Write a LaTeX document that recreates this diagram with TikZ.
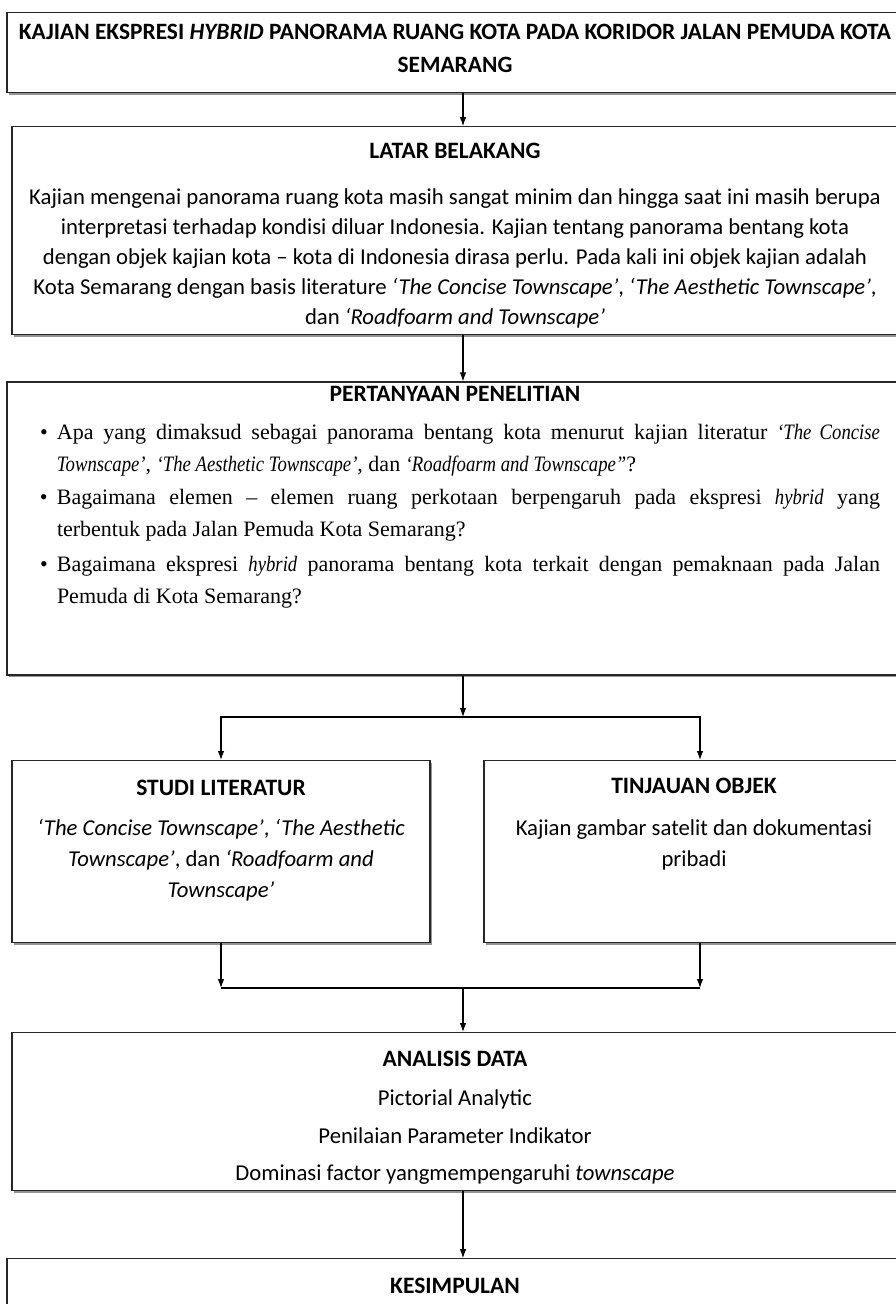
\documentclass[tikz,border=0pt]{standalone}
\usepackage{fontspec}
\setmainfont{Carlito}
\newfontfamily\timesfont{Liberation Serif}[ItalicFeatures={FakeStretch=0.85}]
\usetikzlibrary{arrows.meta,positioning,shadows}

\tikzset{
  box/.style={draw=black!85,line width=1.2pt,fill=white,inner sep=0pt,anchor=north,
    drop shadow={shadow xshift=1.5pt,shadow yshift=-2pt,fill=black!60,opacity=.7}},
}
% fixed size box, text starts at the top
\newcommand{\boxbody}[3]{\parbox[c][#2][t]{#1}{\centering\fontsize{22.7}{30}\selectfont #3}}
\newcommand{\judulfont}{\fontsize{23.5}{30}\selectfont\bfseries}

\begin{document}
\begin{tikzpicture}[->,>={Latex[length=9pt,width=6.5pt]},line width=1.1pt]
  \useasboundingbox (0,0) rectangle (896pt,-1304pt);
  \coordinate (sumbu) at (463pt,0pt);

  \node[box] (judul) at (455pt,-12pt) {\boxbody{896pt}{80pt}{%
    \fontsize{23.4}{33}\selectfont\vspace*{12pt}\bfseries
    KAJIAN EKSPRESI \textit{HYBRID} PANORAMA RUANG KOTA PADA KORIDOR JALAN PEMUDA KOTA\\
    SEMARANG}};

  \node[box] (latar) [below=33pt of judul] {\boxbody{886pt}{208pt}{%
    \vspace*{16pt}{\judulfont LATAR BELAKANG}\\[16pt]
    Kajian mengenai panorama ruang kota masih sangat minim dan hingga saat ini masih berupa\\
    interpretasi terhadap kondisi diluar Indonesia. Kajian tentang panorama bentang kota\\
    dengan objek kajian kota – kota di Indonesia dirasa perlu. Pada kali ini objek kajian adalah\\
    Kota Semarang dengan basis literature \textit{‘The Concise Townscape’}, \textit{‘The Aesthetic Townscape’},\\
    dan \textit{‘Roadfoarm and Townscape’}}};

  \node[box] (tanya) [below=46pt of latar] {\parbox[c][293pt][t]{896pt}{%
    \fontsize{22.7}{30}\selectfont
    \vspace*{4pt}\centerline{\judulfont PERTANYAAN PENELITIAN}\vspace{8pt}
    \noindent\hspace*{33pt}\parbox[t]{840pt}{\timesfont\fontsize{22}{32.5}\selectfont
      \hangindent=17pt\hangafter=1\noindent\makebox[17pt][l]{\textbullet}Apa yang dimaksud sebagai panorama bentang kota menurut kajian literatur \textit{‘The Concise}\linebreak
      \textit{Townscape’}, \textit{‘The Aesthetic Townscape’}, dan \textit{‘Roadfoarm and Townscape”}?\par
      \hangindent=17pt\hangafter=1\noindent\makebox[17pt][l]{\textbullet}Bagaimana elemen – elemen ruang perkotaan berpengaruh pada ekspresi \textit{hybrid} yang\linebreak
      terbentuk pada Jalan Pemuda Kota Semarang?\par\vspace{2pt}
      \hangindent=17pt\hangafter=1\noindent\makebox[17pt][l]{\textbullet}Bagaimana ekspresi \textit{hybrid} panorama bentang kota terkait dengan pemaknaan pada Jalan\linebreak
      Pemuda di Kota Semarang?\par}}};

  \coordinate (bagi) at (463pt,-717pt);

  \node[box] (studi) at (221pt,-760pt) {\boxbody{418pt}{182pt}{%
    \fontsize{22.7}{31}\selectfont
    \vspace*{19pt}{\judulfont STUDI LITERATUR}\\[9pt]
    \textit{‘The Concise Townscape’}, \textit{‘The Aesthetic}\\
    \textit{Townscape’}, dan \textit{‘Roadfoarm and}\\
    \textit{Townscape’}}};

  \node[box] (tinjau) at (694pt,-760pt) {\boxbody{420pt}{182pt}{%
    \fontsize{22.7}{31}\selectfont
    \vspace*{17pt}{\judulfont TINJAUAN OBJEK}\\[11pt]
    Kajian gambar satelit dan dokumentasi\\
    pribadi}};

  \coordinate (gabung) at (463pt,-988pt);

  \node[box] (analisis) at (455pt,-1032pt) {\boxbody{886pt}{158pt}{%
    \fontsize{22.7}{37.5}\selectfont
    \vspace*{18pt}{\judulfont ANALISIS DATA}\\[2pt]
    Pictorial Analytic\\
    Penilaian Parameter Indikator\\
    Dominasi factor yangmempengaruhi \textit{townscape}}};

  \node[box] (simpul) [below=67pt of analisis] {\boxbody{896pt}{120pt}{%
    \vspace*{19pt}{\judulfont KESIMPULAN}}};

  \draw (sumbu |- judul.south) -- (sumbu |- latar.north);
  \draw (sumbu |- latar.south) -- (sumbu |- tanya.north);
  \draw (sumbu |- tanya.south) -- (bagi);
  \draw (bagi) -| (studi.north -| 221pt,0);
  \draw (bagi) -| (700pt,0 |- tinjau.north);
  \draw (221pt,0 |- studi.south) -- (221pt,0 |- gabung);
  \draw (700pt,0 |- tinjau.south) -- (700pt,0 |- gabung);
  \draw[-] (221pt,0 |- gabung) -- (700pt,0 |- gabung);
  \draw (gabung) -- (sumbu |- analisis.north);
  \draw (sumbu |- analisis.south) -- (sumbu |- simpul.north);
\end{tikzpicture}
\end{document}
